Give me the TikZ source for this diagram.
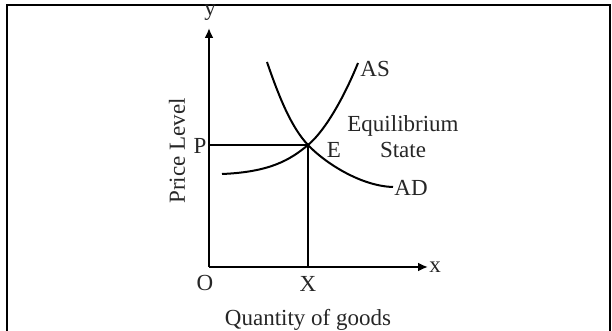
\documentclass[tikz,border=0pt]{standalone}
\usepackage{fontspec}
\setmainfont{Liberation Serif}
\usetikzlibrary{arrows.meta}
\tikzstyle{axis} = [line width=1.1pt, -{Latex[length=5pt,width=4.5pt]}]
\tikzstyle{curve} = [line width=1pt]
\tikzstyle{guide} = [line width=1pt]
\tikzstyle{lbl} = [inner sep=0pt, text=black!85]

\begin{document}
\begin{tikzpicture}[x=0.5pt, y=-0.5pt, every node/.style={font=\fontsize{11.5}{13}\selectfont}]
    \useasboundingbox (0,0) rectangle (612,331);
    % frame
    \draw [line width=1.2pt] (7,331) -- (7,5) -- (610,5) -- (610,331);

    % axes
    \coordinate (o) at (209,267);
    \coordinate (ytop) at (209,28);
    \coordinate (xend) at (428,267);
    \coordinate (e) at (308,145);
    \coordinate (p) at (209,145);
    \coordinate (xq) at (308,267);
    \draw [axis] (o) -- (ytop);
    \draw [axis] (o) -- (xend);

    % equilibrium guides
    \draw [guide] (p) -- (e) -- (xq);

    % supply and demand curves
    \draw [curve] (222,174) .. controls (270,172) and (290,160) .. (e)
        .. controls (326,130) and (345,95) .. (358,63) coordinate (asend);
    \draw [curve] (267,62) .. controls (280,100) and (292,128) .. (e)
        .. controls (324,162) and (360,186) .. (393,187) coordinate (adend);

    % labels
    \node (ylab) [lbl] at (210,13) {y};
    \node (xlab) [lbl] at (435,267) {x};
    \node (olab) [lbl] at (205,283) {O};
    \node (xqlab) [lbl] at (308,284) {X};
    \node (plab) [lbl] at (200,146) {P};
    \node (elab) [lbl] at (334,150) {E};
    \node (aslab) [lbl, anchor=west] at (360,69) {AS};
    \node (adlab) [lbl, anchor=west] at (394,188) {AD};
    \node (eqlab) [lbl, align=center] at (403,137) {Equilibrium\\State};
    \node (qlab) [lbl] at (308,320) {Quantity of goods};
    \node (plvl) [lbl, rotate=90] at (177,151) {Price Level};
\end{tikzpicture}
\end{document}
